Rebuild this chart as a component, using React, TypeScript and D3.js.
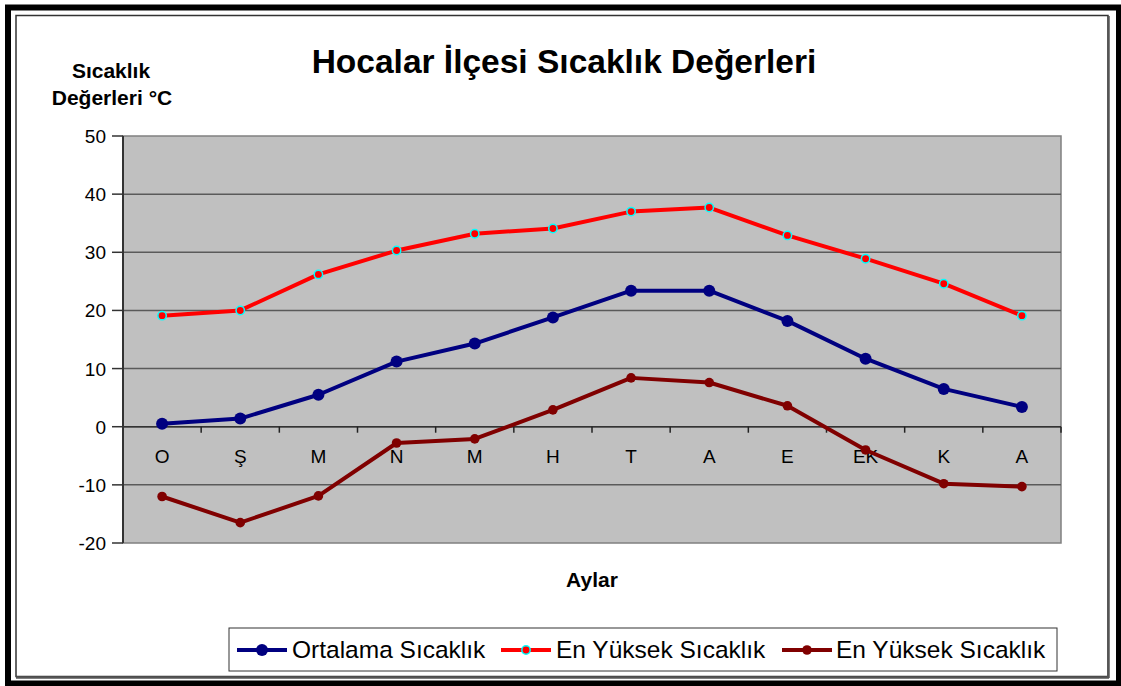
import React from 'react'
import { scaleLinear, scaleBand, line } from 'd3'

const months = ['O', 'Ş', 'M', 'N', 'M', 'H', 'T', 'A', 'E', 'EK', 'K', 'A']
const ortalama = [0.5, 1.4, 5.5, 11.2, 14.3, 18.8, 23.4, 23.4, 18.2, 11.7, 6.5, 3.4]
const enYuksek = [19.1, 20.0, 26.2, 30.3, 33.2, 34.1, 37.0, 37.7, 32.9, 28.9, 24.6, 19.1]
const enDusuk = [-12.0, -16.5, -11.9, -2.8, -2.1, 2.9, 8.4, 7.6, 3.6, -4.0, -9.8, -10.3]
const yTicks = [50, 40, 30, 20, 10, 0, -10, -20]
const seriesNames = ['Ortalama Sıcaklık', 'En Yüksek Sıcaklık', 'En Yüksek Sıcaklık']

const W = 1121
const H = 686
const font = '"Liberation Sans", Arial, sans-serif'

export default function App() {
  const left = 123, right = 1061, top = 136, bottom = 543
  const x = scaleBand<number>().domain(months.map((_, i) => i)).range([left, right])
  const y = scaleLinear().domain([-20, 50]).range([bottom, top])
  const cx = (i: number) => (x(i) as number) + x.bandwidth() / 2

  const mk = line<number>().x((_, i) => cx(i)).y(d => y(d))

  const series = [
    { data: ortalama, color: '#000080', r: 6, fill: '#000080', stroke: 'none' },
    { data: enYuksek, color: '#FF0000', r: 4.2, fill: '#FF0000', stroke: '#00FFFF' },
    { data: enDusuk, color: '#800000', r: 4.8, fill: '#800000', stroke: 'none' },
  ]

  // legend layout
  const legendItems = [
    { lx: 237, tx: 292 },
    { lx: 501, tx: 556 },
    { lx: 782, tx: 836 },
  ]

  return (
    <div style={{ position: 'absolute', left: 0, top: 0 }}>
      <svg width={W} height={H} style={{ display: 'block', fontFamily: font }}>
        <rect x={0} y={0} width={W} height={H} fill="#fff" />
        {/* outer frame */}
        <rect x={8} y={7.5} width={1111} height={676} fill="none" stroke="#000" strokeWidth={6} />
        <rect x={16} y={15.5} width={1092} height={661} fill="none" stroke="#333" strokeWidth={1.5} />
        <line x1={1108.5} y1={16} x2={1108.5} y2={678} stroke="#555" strokeWidth={2.5} />
        <line x1={16} y1={677.5} x2={1109} y2={677.5} stroke="#555" strokeWidth={2.5} />

        {/* titles */}
        <text x={564} y={73} textAnchor="middle" fontSize={33.5} fontWeight="bold">
          Hocalar İlçesi Sıcaklık Değerleri
        </text>
        <text x={111} y={78} textAnchor="middle" fontSize={21} fontWeight="bold">Sıcaklık</text>
        <text x={112} y={105} textAnchor="middle" fontSize={21} fontWeight="bold">Değerleri °C</text>
        <text x={592} y={587} textAnchor="middle" fontSize={21} fontWeight="bold">Aylar</text>

        {/* plot area */}
        <rect x={left} y={top} width={right - left} height={bottom - top} fill="#C0C0C0" stroke="#808080" strokeWidth={1.5} />
        {yTicks.map(t => (
          <g key={t}>
            {t !== 50 && t !== -20 && (
              <line x1={left} x2={right} y1={y(t)} y2={y(t)} stroke="#5a5a5a" strokeWidth={1.5} />
            )}
            <line x1={112} x2={left} y1={y(t)} y2={y(t)} stroke="#333" strokeWidth={1.5} />
            <text x={106} y={y(t) + 7} textAnchor="end" fontSize={19}>{t}</text>
          </g>
        ))}
        <line x1={left} x2={left} y1={top} y2={bottom} stroke="#333" strokeWidth={2} />
        {/* category axis at zero */}
        <line x1={left} x2={right} y1={y(0)} y2={y(0)} stroke="#333" strokeWidth={1.5} />
        {months.map((m, i) => (
          <g key={i}>
            <line x1={(x(i) as number) + x.bandwidth()} x2={(x(i) as number) + x.bandwidth()} y1={y(0)} y2={y(0) + 6} stroke="#222" strokeWidth={1.5} />
            <text x={cx(i)} y={y(0) + 36} textAnchor="middle" fontSize={19}>{m}</text>
          </g>
        ))}

        {/* series */}
        {series.map((s, k) => (
          <g key={k}>
            <path d={mk(s.data) || ''} fill="none" stroke={s.color} strokeWidth={4} strokeLinejoin="round" />
            {s.data.map((d, i) => (
              <circle key={i} cx={cx(i)} cy={y(d)} r={s.r} fill={s.fill} stroke={s.stroke} strokeWidth={s.stroke === 'none' ? 0 : 1.5} />
            ))}
          </g>
        ))}

        {/* legend */}
        <rect x={229} y={628} width={828} height={43} fill="#fff" stroke="#333" strokeWidth={1} />
        {series.map((s, k) => (
          <g key={k}>
            <line x1={legendItems[k].lx} x2={legendItems[k].lx + 50} y1={650} y2={650} stroke={s.color} strokeWidth={4} />
            <circle cx={legendItems[k].lx + 25} cy={650} r={s.r} fill={s.fill} stroke={s.stroke} strokeWidth={s.stroke === 'none' ? 0 : 1.5} />
            <text x={legendItems[k].tx} y={658} fontSize={24.5}>{seriesNames[k]}</text>
          </g>
        ))}
      </svg>
    </div>
  )
}
